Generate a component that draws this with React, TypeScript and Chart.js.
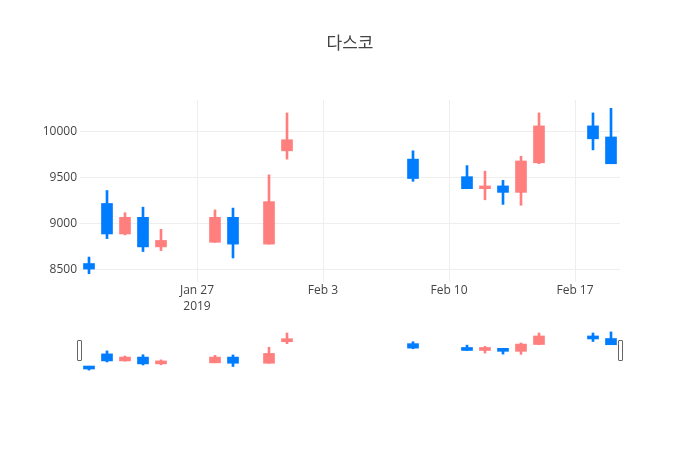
import React, { useEffect, useRef } from 'react';
import { Chart, registerables } from 'chart.js';

Chart.register(...registerables);

// ---- data ----
const titleText = '다스코';
const dates = [
  '2019-01-21', '2019-01-22', '2019-01-23', '2019-01-24', '2019-01-25',
  '2019-01-28', '2019-01-29', '2019-01-31', '2019-02-01', '2019-02-08',
  '2019-02-11', '2019-02-12', '2019-02-13', '2019-02-14', '2019-02-15',
  '2019-02-18', '2019-02-19',
];
const openPrices = [8570, 9220, 8890, 9070, 8750, 8800, 9070, 8780, 9790, 9700, 9510, 9380, 9410, 9340, 9660, 10060, 9940];
const highPrices = [8640, 9360, 9120, 9180, 8940, 9150, 9170, 9530, 10200, 9790, 9630, 9570, 9470, 9730, 10200, 10200, 10250];
const lowPrices = [8460, 8840, 8880, 8700, 8710, 8800, 8630, 8780, 9700, 9460, 9380, 9260, 9210, 9200, 9650, 9800, 9650];
const closePrices = [8510, 8890, 9070, 8750, 8820, 9070, 8780, 9240, 9910, 9490, 9380, 9410, 9340, 9680, 10060, 9920, 9650];

const xTickDates = ['2019-01-27', '2019-02-03', '2019-02-10', '2019-02-17'];
const xTickLabels: (string | string[])[] = [['Jan 27', '2019'], 'Feb 3', 'Feb 10', 'Feb 17'];
const xRange = ['2019-01-20T12:00:00Z', '2019-02-19T12:00:00Z'];
const yTickValues = [8500, 9000, 9500, 10000];
const yRange = [8370, 10340];

// ---- styles ----
const UP_COLOR = '#ff7f7f';
const DOWN_COLOR = 'rgb(0,124,255)';
const GRID_COLOR = '#eeeeee';
const TEXT_COLOR = '#444444';
const FONT = "'Open Sans', verdana, arial, sans-serif";
const TITLE_FONT = "'Open Sans', 'Noto Sans CJK KR', sans-serif";

const REF = Date.parse(xTickDates[0] + 'T00:00:00Z');
const DAY = 86400000;
const dayOf = (d: string) => (Date.parse(d.length === 10 ? d + 'T00:00:00Z' : d) - REF) / DAY;

function buildDatasets(bodyWidth: number, wickWidth: number, minBody: number) {
  const xs = dates.map(dayOf);
  const colors = openPrices.map((o, i) => (closePrices[i] >= o ? UP_COLOR : DOWN_COLOR));
  return [
    {
      type: 'bar' as const,
      label: 'body',
      data: xs.map((x, i) => ({ x, y: [openPrices[i], closePrices[i]] })),
      backgroundColor: colors,
      borderWidth: 0,
      barThickness: bodyWidth,
      maxBarThickness: bodyWidth,
      minBarLength: minBody,
      grouped: false,
      order: 0,
    },
    {
      type: 'bar' as const,
      label: 'wick',
      data: xs.map((x, i) => ({ x, y: [lowPrices[i], highPrices[i]] })),
      backgroundColor: colors,
      borderWidth: 0,
      barThickness: wickWidth,
      maxBarThickness: wickWidth,
      grouped: false,
      order: 1,
    },
  ];
}

export default function App() {
  const mainRef = useRef<HTMLCanvasElement | null>(null);
  const sliderRef = useRef<HTMLCanvasElement | null>(null);

  useEffect(() => {
    const xMin = dayOf(xRange[0]);
    const xMax = dayOf(xRange[1]);
    const xTickValues = xTickDates.map(dayOf);

    const main = new Chart(mainRef.current as HTMLCanvasElement, {
      type: 'bar',
      data: { datasets: buildDatasets(11, 2, 2) as any },
      options: {
        responsive: false,
        animation: false,
        devicePixelRatio: 1,
        layout: { padding: 0 },
        plugins: {
          legend: { display: false },
          tooltip: { enabled: false },
          title: {
            display: true,
            text: titleText,
            color: TEXT_COLOR,
            font: { family: TITLE_FONT, size: 17, weight: 'normal', lineHeight: 1.2 },
            padding: { top: 34, bottom: 45.6 },
          },
        },
        scales: {
          x: {
            type: 'linear',
            min: xMin,
            max: xMax,
            offset: false,
            grid: { color: GRID_COLOR, drawTicks: false, offset: false },
            border: { display: false },
            ticks: {
              autoSkip: false,
              maxRotation: 0,
              padding: 1,
              color: TEXT_COLOR,
              font: { family: FONT, size: 12, lineHeight: 1.3 },
              callback: (_v: any, i: number) => xTickLabels[i],
            },
            afterBuildTicks: (s: any) => {
              s.ticks = xTickValues.map((v) => ({ value: v }));
            },
            afterFit: (s: any) => {
              s.height = 168;
            },
          },
          y: {
            type: 'linear',
            position: 'left',
            min: yRange[0],
            max: yRange[1],
            grid: { color: GRID_COLOR, drawTicks: false },
            border: { display: false },
            ticks: {
              padding: 3,
              color: TEXT_COLOR,
              font: { family: FONT, size: 12 },
              callback: (v: any) => String(v),
            },
            afterBuildTicks: (s: any) => {
              s.ticks = yTickValues.map((v) => ({ value: v }));
            },
            afterFit: (s: any) => {
              s.width = 80;
            },
          },
          y2: {
            type: 'linear',
            position: 'right',
            grid: { display: false, drawTicks: false },
            border: { display: false },
            ticks: { display: false },
            afterFit: (s: any) => {
              s.width = 80;
            },
          },
        },
      } as any,
    });

    const slider = new Chart(sliderRef.current as HTMLCanvasElement, {
      type: 'bar',
      data: { datasets: buildDatasets(11, 2, 3) as any },
      options: {
        responsive: false,
        animation: false,
        devicePixelRatio: 1,
        layout: { padding: { left: 80, right: 80, top: 0, bottom: 0 } },
        plugins: { legend: { display: false }, tooltip: { enabled: false } },
        scales: {
          x: { type: 'linear', display: false, min: xMin, max: xMax, offset: false, grid: { offset: false } },
          y: { type: 'linear', display: false, min: yRange[0], max: yRange[1] },
        },
      } as any,
    });

    return () => {
      main.destroy();
      slider.destroy();
    };
  }, []);

  const handle = (left: number): React.CSSProperties => ({
    position: 'absolute',
    left,
    top: 340,
    width: 5,
    height: 21,
    boxSizing: 'border-box',
    border: '1px solid #666',
    borderRadius: 1,
    background: '#fff',
  });

  return (
    <div style={{ position: 'fixed', left: 0, top: 0, width: 700, height: 450, background: '#fff' }}>
      <canvas ref={mainRef} width={700} height={450} style={{ position: 'absolute', left: 0, top: 0 }} />
      <canvas ref={sliderRef} width={700} height={42} style={{ position: 'absolute', left: 0, top: 330 }} />
      <div style={handle(77)} />
      <div style={handle(618)} />
    </div>
  );
}
